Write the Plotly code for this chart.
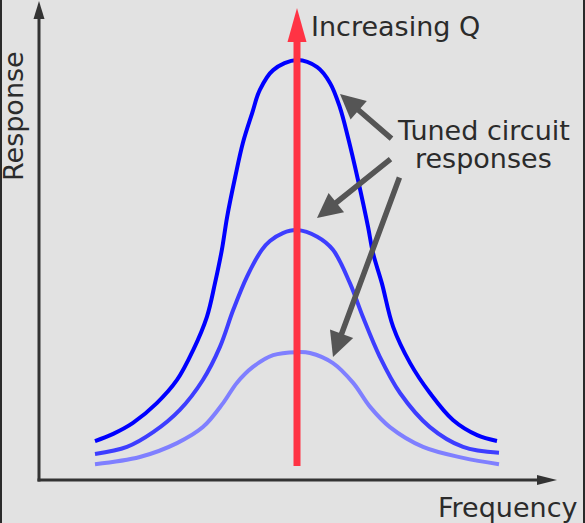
import plotly.graph_objects as go

W, H = 585, 523

# relative frequency f/f0 and normalised response
freq_high = [0.500, 0.545, 0.594, 0.653, 0.703, 0.743, 0.777, 0.797, 0.814, 0.827,
             0.847, 0.866, 0.889, 0.908, 0.941, 1.000, 1.050, 1.082, 1.106, 1.126,
             1.151, 1.176, 1.188, 1.210, 1.238, 1.280, 1.329, 1.386, 1.446, 1.495]
resp_high = [0.095, 0.112, 0.138, 0.185, 0.240, 0.311, 0.390, 0.470, 0.549, 0.627,
             0.722, 0.803, 0.874, 0.929, 0.976, 1.000, 0.983, 0.945, 0.888, 0.817,
             0.715, 0.603, 0.542, 0.470, 0.366, 0.280, 0.209, 0.145, 0.109, 0.095]

freq_mid = [0.500, 0.579, 0.644, 0.710, 0.767, 0.809, 0.842, 0.876, 0.913, 0.933, 0.965,
            1.000, 1.050, 1.089, 1.131, 1.163, 1.205, 1.255, 1.329, 1.411, 1.500]
resp_mid = [0.064, 0.081, 0.116, 0.169, 0.240, 0.318, 0.406, 0.485, 0.549, 0.570, 0.589,
            0.596, 0.580, 0.549, 0.470, 0.390, 0.295, 0.209, 0.128, 0.081, 0.067]

freq_low = [0.500, 0.611, 0.703, 0.767, 0.817, 0.851, 0.891, 0.941, 1.000,
            1.032, 1.089, 1.139, 1.181, 1.230, 1.312, 1.411, 1.500]
resp_low = [0.040, 0.057, 0.090, 0.128, 0.185, 0.233, 0.271, 0.299, 0.306,
            0.304, 0.280, 0.233, 0.176, 0.128, 0.081, 0.055, 0.040]

curves = [
    (freq_high, resp_high, "#0000ff"),
    (freq_mid, resp_mid, "#3d3dff"),
    (freq_low, resp_low, "#7f7fff"),
]

FONT = "DejaVu Sans, Verdana, sans-serif"
TEXT = "#2b2b2b"
GREY = "#555555"
RED = "#ff3344"


def fx(px):
    # canvas pixel -> paper fraction
    return px / W


def fy(py):
    return 1 - py / H


fig = go.Figure()
for xs, ys, col in curves:
    fig.add_trace(go.Scatter(x=xs, y=ys, mode="lines",
                             line=dict(color=col, width=4, shape="spline", smoothing=1.0),
                             hoverinfo="skip", showlegend=False))

shapes = [
    # dark frame strips
    dict(type="rect", xref="paper", yref="paper", x0=0, x1=fx(2), y0=0, y1=1,
         fillcolor="#2a2a2a", line_width=0),
    dict(type="rect", xref="paper", yref="paper", x0=fx(583), x1=1, y0=0, y1=1,
         fillcolor="#2a2a2a", line_width=0),
    # axes
    dict(type="line", xref="paper", yref="paper", x0=fx(39), x1=fx(39), y0=fy(481.5), y1=fy(16),
         line=dict(color="#333333", width=3)),
    dict(type="path", xref="paper", yref="paper", xsizemode="pixel", ysizemode="pixel",
         xanchor=fx(39), yanchor=fy(1), path="M 0 0 L -5.5 -18 L 5.5 -18 Z",
         fillcolor="#333333", line_width=0),
    dict(type="line", xref="paper", yref="paper", x0=fx(37.5), x1=fx(540), y0=fy(480), y1=fy(480),
         line=dict(color="#333333", width=3)),
    dict(type="path", xref="paper", yref="paper", xsizemode="pixel", ysizemode="pixel",
         xanchor=fx(557), yanchor=fy(480), path="M 0 0 L -20 5 L -20 -5 Z",
         fillcolor="#333333", line_width=0),
    # increasing Q arrow
    dict(type="line", xref="paper", yref="paper", x0=fx(297), x1=fx(297), y0=fy(466), y1=fy(38),
         line=dict(color=RED, width=7), layer="above"),
    dict(type="path", xref="paper", yref="paper", xsizemode="pixel", ysizemode="pixel",
         xanchor=fx(297), yanchor=fy(8), path="M 0 0 L -9.5 -34 L 9.5 -34 Z",
         fillcolor=RED, line_width=0, layer="above"),
]

annotations = [
    dict(text="Increasing Q", x=fx(309), y=fy(27), xanchor="left", yanchor="middle"),
    dict(text="Tuned circuit", x=fx(484), y=fy(130), xanchor="center", yanchor="middle"),
    dict(text="responses", x=fx(483), y=fy(159), xanchor="center", yanchor="middle"),
    dict(text="Frequency", x=fx(436), y=fy(507), xanchor="left", yanchor="middle"),
    dict(text="Response", x=fx(13), y=fy(116), xanchor="center", yanchor="middle", textangle=-90),
]
for a in annotations:
    a.update(xref="paper", yref="paper", showarrow=False,
             font=dict(family=FONT, size=27, color=TEXT))

# pointer arrows: (tip x, tip y, tail x, tail y) in canvas pixels
pointers = [(340, 94, 393, 140), (317, 218, 392, 158), (333, 357, 400, 176)]
for tx, ty, sx, sy in pointers:
    annotations.append(dict(text="", xref="paper", yref="paper", x=fx(tx), y=fy(ty),
                            ax=sx - tx, ay=sy - ty, showarrow=True, arrowhead=2,
                            arrowsize=0.9, arrowwidth=5.5, arrowcolor=GREY, standoff=0))

fig.update_layout(
    width=W, height=H,
    margin=dict(l=0, r=0, t=0, b=0, autoexpand=False),
    paper_bgcolor="#e2e2e2", plot_bgcolor="#e2e2e2",
    xaxis=dict(range=[1 - 297 / 404, 1 + 288 / 404], visible=False, fixedrange=True),
    yaxis=dict(range=[(481 - 523) / 421, 481 / 421], visible=False, fixedrange=True),
    shapes=shapes, annotations=annotations,
    showlegend=False,
)

# drop the browser's default 8px body margin so the chart fills the window
fig.write_html("out.html", config={"displayModeBar": False},
               post_script="document.body.style.margin='0';document.body.style.overflow='hidden';")
